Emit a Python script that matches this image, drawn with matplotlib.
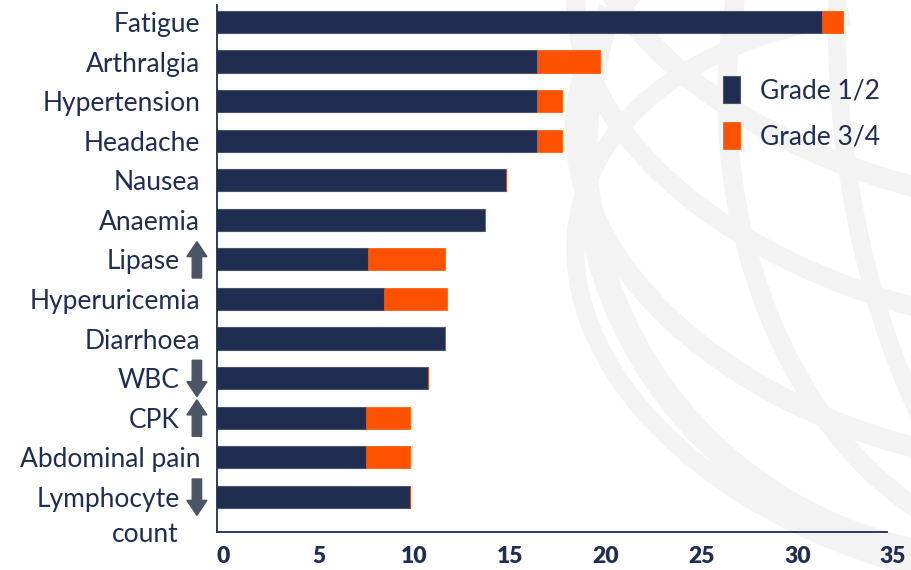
import matplotlib.pyplot as plt
import matplotlib.transforms as mtrans
from matplotlib.patches import Arc, FancyArrow
import numpy as np

categories = ['Fatigue', 'Arthralgia', 'Hypertension', 'Headache', 'Nausea', 'Anaemia',
              'Lipase', 'Hyperuricemia', 'Diarrhoea', 'WBC', 'CPK', 'Abdominal pain',
              'Lymphocyte']
grade12 = [31.6, 16.7, 16.7, 16.7, 15.1, 14.0, 7.9, 8.7, 11.9, 11.0, 7.8, 7.8, 10.1]
grade34 = [1.1, 3.3, 1.3, 1.3, 0, 0, 4.0, 3.3, 0, 0, 2.3, 2.3, 0]
# lab values with arrows: +1 up, -1 down
arrows = {'Lipase': 1, 'WBC': -1, 'CPK': 1, 'Lymphocyte': -1}
xticks = [0, 5, 10, 15, 20, 25, 30, 35]

navy = '#1f2d50'
orange = '#ff5200'
grey = '#4b5563'
plt.rcParams['font.family'] = ['Lato', 'DejaVu Sans']
fs = 19

fig = plt.figure(figsize=(9.12, 5.7), dpi=100)

# faint globe watermark in the background (pixel coords)
bg = fig.add_axes([0, 0, 1, 1], zorder=0)
bg.set_xlim(0, 912)
bg.set_ylim(570, 0)
bg.axis('off')
wm = '#f3f3f3'
bg.add_patch(Arc((1000, 150), 830, 820, theta1=90, theta2=200, lw=18, color=wm))
for w, lw in [(560, 14), (330, 13), (120, 12)]:
    bg.add_patch(Arc((1010, 140), w, 820, angle=-8, theta1=90, theta2=270, lw=lw, color=wm))
for yc, h, lw in [(-60, 520, 15), (60, 520, 14), (180, 560, 15), (300, 560, 13)]:
    bg.add_patch(Arc((1000, yc), 860, h, angle=12, theta1=90, theta2=230, lw=lw, color=wm))

ax = fig.add_axes([217 / 912, 38 / 570, 670 / 912, 527 / 570], zorder=1)
ax.patch.set_alpha(0)
y = np.arange(len(categories))
ax.barh(y, grade12, height=0.56, color=navy, edgecolor='#4a5568', linewidth=0.8, label='Grade 1/2')
ax.barh(y, grade34, left=grade12, height=0.56, color=orange, edgecolor=orange, linewidth=0.5,
        label='Grade 3/4')
ax.set_xlim(0, 35)
ax.set_ylim(12.89, -0.43)
ax.set_xticks(xticks)
ax.set_xticklabels([str(t) for t in xticks], fontsize=16.5, fontweight='heavy', color=navy)
ax.set_yticks(y)
ax.set_yticklabels(categories, fontsize=fs, color=navy)
ax.tick_params(axis='both', length=0)
ax.tick_params(axis='x', pad=10)
shift = mtrans.ScaledTranslation(6 / 100, 0, fig.dpi_scale_trans)
for lab in ax.get_xticklabels():
    lab.set_transform(lab.get_transform() + shift)
for i, t in enumerate(ax.yaxis.get_major_ticks()):
    t.set_pad(27 if categories[i] in arrows else 12)
for s in ['top', 'right']:
    ax.spines[s].set_visible(False)
for s in ['left', 'bottom']:
    ax.spines[s].set_color(navy)
    ax.spines[s].set_linewidth(1.3)

tr = mtrans.blended_transform_factory(ax.transAxes, ax.transData)
for name, d in arrows.items():
    i = categories.index(name)
    x0 = -0.030
    start = i + 0.47 if d > 0 else i - 0.45
    ax.add_patch(FancyArrow(x0, start, 0, -0.92 * d, width=0.014, head_width=0.03,
                            head_length=0.38, length_includes_head=True, color=grey,
                            transform=tr, clip_on=False))
ax.text(-38 / 670, 12 + 0.95, 'count', transform=tr, ha='right', va='center',
        fontsize=fs, color=navy)

leg = ax.legend(loc='upper left', bbox_to_anchor=(0.72, 0.91), frameon=False, fontsize=fs,
                handlelength=0.65, handleheight=1.2, handletextpad=0.75, labelspacing=0.7)
for txt in leg.get_texts():
    txt.set_color(navy)

fig.savefig('out.png', dpi=100)
